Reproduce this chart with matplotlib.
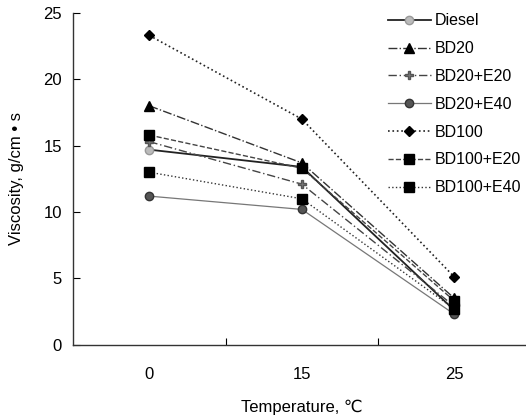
import matplotlib
matplotlib.use('Agg')
import matplotlib.pyplot as plt

plt.rcParams['font.family'] = ['Liberation Sans', 'DejaVu Sans']

# viscosity of each fuel blend at three temperatures
temps = ['0', '15', '25']
diesel     = [14.7, 13.4, 2.6]
bd20       = [18.0, 13.7, 3.5]
bd20_e20   = [15.3, 12.1, 2.9]
bd20_e40   = [11.2, 10.2, 2.3]
bd100      = [23.3, 17.0, 5.1]
bd100_e20  = [15.8, 13.3, 3.3]
bd100_e40  = [13.0, 11.0, 2.7]

series = [
    ('Diesel',    diesel,    dict(ls='-',  color='#222222', lw=1.3, marker='o', ms=6, mfc='#bbbbbb', mec='#999999')),
    ('BD20',      bd20,      dict(ls='-.', color='#333333', lw=1.0, marker='^', ms=7, mfc='black', mec='black')),
    ('BD20+E20',  bd20_e20,  dict(ls=(0, (6, 2, 1, 2)), color='#444444', lw=1.0, marker='P', ms=6, mfc='#777777', mec='#555555')),
    ('BD20+E40',  bd20_e40,  dict(ls='-',  color='#777777', lw=0.9, marker='o', ms=6, mfc='#555555', mec='#333333')),
    ('BD100',     bd100,     dict(ls=':',  color='#222222', lw=1.2, marker='D', ms=5, mfc='black', mec='black')),
    ('BD100+E20', bd100_e20, dict(ls='--', color='#444444', lw=1.0, marker='s', ms=6.5, mfc='black', mec='black')),
    ('BD100+E40', bd100_e40, dict(ls=':',  color='#333333', lw=1.0, marker='s', ms=6.5, mfc='black', mec='black')),
]

fig = plt.figure(figsize=(5.26, 4.16), dpi=100)
ax = fig.add_axes([0.139, 0.171, 0.87, 0.798])

x = range(len(temps))
for name, vals, style in series:
    ax.plot(x, vals, label=name, **style)

ax.set_xlim(-0.5, 2.5)
ax.set_ylim(0, 25)
ax.set_yticks([0, 5, 10, 15, 20, 25])
ax.set_xticks([0, 1, 2])
ax.set_xticklabels(temps)
ax.set_xticks([0.5, 1.5], minor=True)
ax.tick_params(axis='x', which='major', length=0, pad=16, labelsize=12)
ax.tick_params(axis='x', which='minor', direction='in', length=5, width=0.8)
ax.tick_params(axis='y', direction='in', length=5, width=0.8, labelsize=12, pad=8)

for side in ('top', 'right'):
    ax.spines[side].set_visible(False)
for side in ('left', 'bottom'):
    ax.spines[side].set_linewidth(1.0)
    ax.spines[side].set_color('#333333')

ax.set_xlabel('Temperature, ℃', fontsize=12, va='top')
ax.xaxis.set_label_coords(0.5, -0.166)
ax.set_ylabel('Viscosity, g/cm • s', fontsize=12, labelpad=14)

ax.legend(loc='upper left', bbox_to_anchor=(0.725, 0.983), bbox_transform=fig.transFigure,
          frameon=False, fontsize=11.5, handlelength=2.7, handletextpad=0.25,
          labelspacing=0.8, borderaxespad=0)

fig.savefig('out.png', dpi=100)
